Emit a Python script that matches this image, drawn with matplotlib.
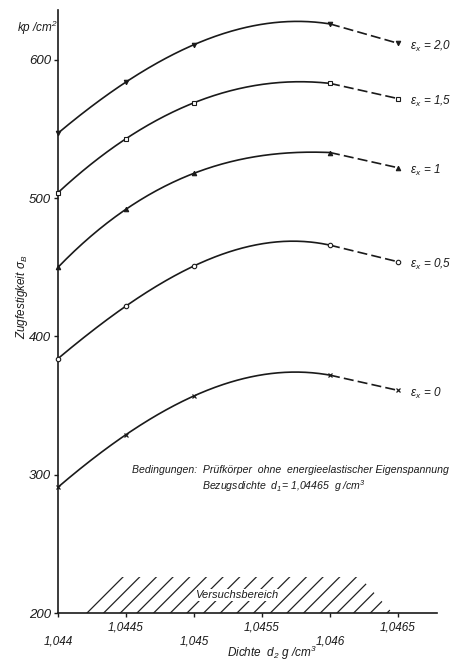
"""
Zugfestigkeit über Dichte für verschiedene Reckgrade (Nachzeichnung).
"""
import numpy as np
import matplotlib
matplotlib.use("Agg")
import matplotlib.pyplot as plt
from matplotlib.ticker import FixedLocator, FixedFormatter

plt.rcParams["font.family"] = ["Liberation Sans", "DejaVu Sans"]
plt.rcParams["font.style"] = "italic"
plt.rcParams["mathtext.fontset"] = "custom"
plt.rcParams["mathtext.rm"] = "Liberation Sans:italic"
plt.rcParams["mathtext.it"] = "Liberation Sans:italic"
plt.rcParams["hatch.linewidth"] = 0.9
plt.rcParams["hatch.color"] = "#222222"

# ── Data ─────────────────────────────────────────────────────────────────────
DICHTE = [1.044, 1.0445, 1.045, 1.046, 1.0465]
EPS_LABELS = ["2,0", "1,5", "1", "0,5", "0"]
MARKERS = ["v", "s", "^", "o", "x"]
FILLED = [True, False, True, False, True]
SIGMA_20 = [547, 584, 611, 626, 612]
SIGMA_15 = [504, 543, 569, 583, 572]
SIGMA_10 = [450, 492, 518, 533, 522]
SIGMA_05 = [384, 422, 451, 466, 454]
SIGMA_00 = [291, 329, 357, 372, 361]
SERIES = [SIGMA_20, SIGMA_15, SIGMA_10, SIGMA_05, SIGMA_00]

X_MAJOR = [1.044, 1.045, 1.046]
X_MAJOR_LABELS = ["1,044", "1,045", "1,046"]
X_MINOR = [1.0445, 1.0455, 1.0465]
X_MINOR_LABELS = ["1,0445", "1,0455", "1,0465"]
Y_TICKS = [200, 300, 400, 500, 600]

# Versuchsbereich (hatched range): bottom-left, top-left, top-right, bottom-right
VERSUCH_X = [1.04416, 1.04442, 1.04622, 1.04646]
VERSUCH_Y = [200, 226, 226, 200]

INK = "#1a1a1a"

# ── Plot ─────────────────────────────────────────────────────────────────────
fig = plt.figure(figsize=(4.59, 6.64), dpi=100)
ax = fig.add_axes([0.1264, 0.0768, 0.8257, 0.908])
ax.set_xlim(1.044, 1.046787)
ax.set_ylim(200, 636)

for vals, lab, mk, filled in zip(SERIES, EPS_LABELS, MARKERS, FILLED):
    x = np.array(DICHTE)
    y = np.array(vals, dtype=float)
    # smooth solid curve through the first four points
    u = (x[:4] - 1.044) / 0.0005
    coef = np.polyfit(u, y[:4], 3)
    uu = np.linspace(0, 4, 200)
    ax.plot(1.044 + uu * 0.0005, np.polyval(coef, uu), color=INK,
            lw=1.2, zorder=3, solid_capstyle="round")
    # dashed extrapolation
    ax.plot(x[3:], y[3:], color=INK, lw=1.2, zorder=3,
            linestyle=(0, (6, 2.5)))
    if mk == "x":
        ax.plot(x, y, linestyle="none", marker=mk, ms=3, mew=0.9,
                color=INK, zorder=5, clip_on=False)
    else:
        ax.plot(x, y, linestyle="none", marker=mk, ms=3.2, mew=0.8,
                mec=INK, mfc=INK if filled else "white",
                zorder=5, clip_on=False)
    ax.text(1.04659, y[-1] - 2, f"ε$_x$ = {lab}", fontsize=8.5,
            ha="left", va="center", color=INK)

# Versuchsbereich
ax.fill(VERSUCH_X, VERSUCH_Y, facecolor="none", edgecolor="#222222",
        linewidth=0, hatch="//", zorder=1)
ax.text(np.mean(VERSUCH_X), 213, "Versuchsbereich", fontsize=8,
        ha="center", va="center", color=INK, zorder=2,
        bbox=dict(facecolor="white", edgecolor="none", pad=0.5))

# axes styling
for side in ("top", "right"):
    ax.spines[side].set_visible(False)
for side in ("left", "bottom"):
    ax.spines[side].set_linewidth(1.2)
    ax.spines[side].set_color(INK)

ax.set_yticks(Y_TICKS)
ax.set_yticklabels([str(v) for v in Y_TICKS])
ax.tick_params(axis="y", direction="out", length=3, width=1, pad=2,
               labelsize=9.5, colors=INK)

ax.xaxis.set_major_locator(FixedLocator(X_MAJOR))
ax.xaxis.set_major_formatter(FixedFormatter(X_MAJOR_LABELS))
ax.xaxis.set_minor_locator(FixedLocator(X_MINOR))
ax.xaxis.set_minor_formatter(FixedFormatter(X_MINOR_LABELS))
ax.tick_params(axis="x", which="major", direction="out", length=3, width=1,
               pad=13, labelsize=8.5, colors=INK)
ax.tick_params(axis="x", which="minor", direction="out", length=3, width=1,
               pad=3, labelsize=8.5, colors=INK)

ax.text(-0.055, 0.970, "kp /cm$^2$", transform=ax.transAxes, fontsize=8.5,
        ha="center", va="center", color=INK)
ax.text(-0.095, 0.524, "Zugfestigkeit σ$_B$", transform=ax.transAxes,
        fontsize=8.5, rotation=90, ha="center", va="center", color=INK)
ax.text(0.565, -0.066, "Dichte  d$_2$ g /cm$^3$", transform=ax.transAxes,
        fontsize=8.5, ha="center", va="center", color=INK)

ax.text(0.195, 0.237,
        "Bedingungen:  Prüfkörper  ohne  energieelastischer Eigenspannung",
        transform=ax.transAxes, fontsize=7.6, ha="left", va="center",
        color=INK)
ax.text(0.380, 0.211, "Bezugsdichte  d$_1$= 1,04465  g /cm$^3$",
        transform=ax.transAxes, fontsize=7.6, ha="left", va="center",
        color=INK)

fig.savefig("out.png", dpi=100, facecolor="white")
